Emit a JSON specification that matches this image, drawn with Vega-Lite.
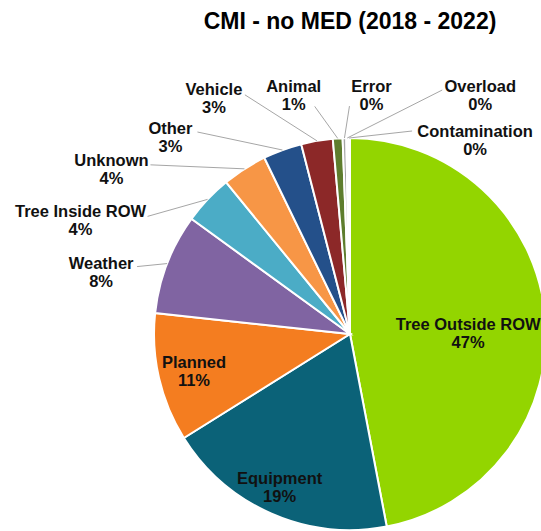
{
  "$schema": "https://vega.github.io/schema/vega-lite/v6.json",
  "autosize": "none",
  "width": 380,
  "height": 392,
  "padding": {"left": 160, "top": 138, "right": 1, "bottom": 1},
  "background": "white",
  "config": {"view": {"stroke": null}},
  "title": {
    "text": "CMI - no MED (2018 - 2022)",
    "font": "Liberation Sans",
    "fontSize": 23,
    "fontWeight": "bold",
    "color": "#000000",
    "anchor": "middle",
    "frame": "group",
    "baseline": "alphabetic",
    "offset": 27
  },
  "data": {
    "values": [
      {"cause": "Tree Outside ROW", "value": 47.0},
      {"cause": "Equipment", "value": 19.1},
      {"cause": "Planned", "value": 10.6},
      {"cause": "Weather", "value": 8.3},
      {"cause": "Tree Inside ROW", "value": 4.1},
      {"cause": "Unknown", "value": 3.7},
      {"cause": "Other", "value": 3.2},
      {"cause": "Vehicle", "value": 2.6},
      {"cause": "Animal", "value": 0.8},
      {"cause": "Error", "value": 0.3},
      {"cause": "Overload", "value": 0.15},
      {"cause": "Contamination", "value": 0.15}
    ]
  },
  "transform": [
    {"window": [{"op": "row_number", "as": "idx"}]},
    {"stack": "value", "groupby": [], "sort": [{"field": "idx", "order": "ascending"}], "as": ["v0", "v1"]},
    {"calculate": "PI*(datum.v0+datum.v1)/100", "as": "ang"},
    {"calculate": "190+196*sin(datum.ang)", "as": "ex"},
    {"calculate": "196-196*cos(datum.ang)", "as": "ey"},
    {"calculate": "datum.ex+[-77,8,35,-66,-127,-133,-112,-103,-44,27,133,126][datum.idx-1]", "as": "lx"},
    {"calculate": "datum.ey+[9,-35,-15,0,13,-8,-21,-51,-51,-51,-51,-6][datum.idx-1]", "as": "ly"},
    {"calculate": "datum.ex+[0,0,0,-30,-60,-94,-85,-72,-23,5,95,63][datum.idx-1]", "as": "sx"},
    {"calculate": "datum.ey+[0,0,0,3,17,-4,-18,-46,-32,-32,-48,-7][datum.idx-1]", "as": "sy"},
    {"calculate": "datum.cause + '\\n' + format(datum.value, '.0f') + '%'", "as": "label"}
  ],
  "layer": [
    {
      "mark": {"type": "arc", "outerRadius": 196, "stroke": "#ffffff", "strokeWidth": 2},
      "encoding": {
        "theta": {"field": "v0", "type": "quantitative", "scale": {"domain": [0, 100]}},
        "theta2": {"field": "v1"},
        "color": {
          "field": "cause",
          "type": "nominal",
          "legend": null,
          "scale": {
            "domain": ["Tree Outside ROW", "Equipment", "Planned", "Weather", "Tree Inside ROW", "Unknown", "Other", "Vehicle", "Animal", "Error", "Overload", "Contamination"],
            "range": ["#93D500", "#0B6278", "#F47D20", "#8064A2", "#4BACC6", "#F79646", "#24508A", "#8C2828", "#5E7D2D", "#A5A5A5", "#C0504D", "#4F81BD"]
          }
        }
      }
    },
    {
      "transform": [{"filter": "datum.idx >= 4"}],
      "mark": {"type": "rule", "color": "#A6A6A6", "strokeWidth": 1},
      "encoding": {
        "x": {"field": "sx", "type": "quantitative", "scale": {"domain": [0, 380], "nice": false, "zero": false}, "axis": null},
        "y": {"field": "sy", "type": "quantitative", "scale": {"domain": [0, 392], "nice": false, "zero": false, "reverse": true}, "axis": null},
        "x2": {"field": "ex"},
        "y2": {"field": "ey"}
      }
    },
    {
      "mark": {
        "type": "text",
        "align": "center",
        "baseline": "middle",
        "font": "Liberation Sans",
        "fontWeight": "bold",
        "fontSize": 16.5,
        "lineHeight": 18,
        "lineBreak": "\n",
        "color": "#111111"
      },
      "encoding": {
        "x": {"field": "lx", "type": "quantitative", "scale": {"domain": [0, 380], "nice": false, "zero": false}, "axis": null},
        "y": {"field": "ly", "type": "quantitative", "scale": {"domain": [0, 392], "nice": false, "zero": false, "reverse": true}, "axis": null},
        "text": {"field": "label"}
      }
    }
  ]
}
